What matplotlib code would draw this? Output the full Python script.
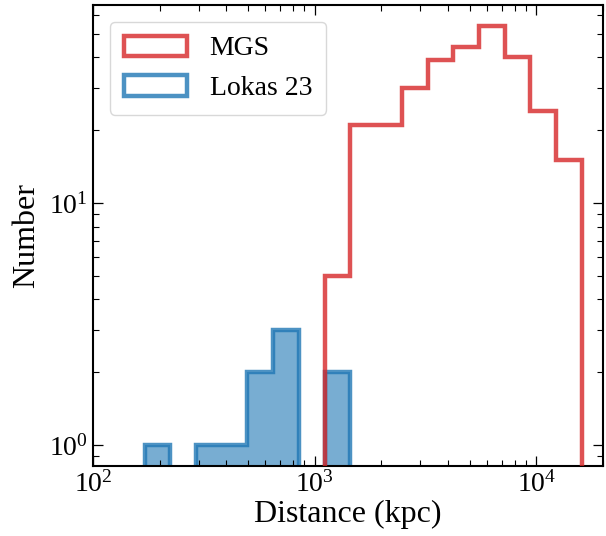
import matplotlib
matplotlib.use("Agg")
import matplotlib.pyplot as plt

# Bin edges (kpc) and counts
mgs_edges = [1109, 1449, 1894, 2474, 3232, 4222, 5515, 7206, 9415, 12300, 16070]
mgs_counts = [5, 21, 21, 30, 39, 44, 54, 40, 24, 15]

lokas_edges = [171, 223, 291, 381, 497, 650, 849, 1109, 1449]
lokas_counts = [1, 0, 1, 1, 2, 3, 0, 2]

plt.rcParams['font.family'] = ['Liberation Serif', 'DejaVu Serif']
plt.rcParams['mathtext.fontset'] = 'stix'


def main():
    fig = plt.figure(figsize=(6.06, 5.36), dpi=100)
    ax = fig.add_axes([0.1535, 0.1306, 0.8415, 0.8601])

    # MGS outline (drawn on top of the Lokas bars)
    ax.hist(mgs_edges[:-1], bins=mgs_edges, weights=mgs_counts,
            histtype='step', color='#d62728', alpha=0.8, lw=3.2, label='MGS',
            zorder=3)

    # Lokas 23: filled bars plus outline
    ax.hist(lokas_edges[:-1], bins=lokas_edges, weights=lokas_counts,
            histtype='stepfilled', color='#1f77b4', alpha=0.6, lw=0)
    ax.hist(lokas_edges[:-1], bins=lokas_edges, weights=lokas_counts,
            histtype='step', color='#1f77b4', alpha=0.8, lw=3.2, label='Lokas 23')

    ax.set_xscale('log')
    ax.set_yscale('log')
    ax.set_xlim(100, 2e4)
    ax.set_ylim(0.819, 65.9)

    ax.set_xlabel('Distance (kpc)', fontsize=23, labelpad=2)
    ax.set_ylabel('Number', fontsize=23, labelpad=6)

    ax.tick_params(which='both', direction='in', top=True, right=True,
                   labelsize=20)
    ax.tick_params(which='major', length=7, width=0.9)
    ax.tick_params(which='minor', length=4, width=0.8)
    for s in ax.spines.values():
        s.set_linewidth(1.5)

    ax.legend(loc='upper left', fontsize=20, handlelength=2.3,
              handleheight=0.75, borderpad=0.5, labelspacing=0.5,
              handletextpad=0.8, borderaxespad=0.6, framealpha=1,
              edgecolor='#d8d8d8')

    fig.savefig('out.png', dpi=100)


if __name__ == "__main__":
    main()
